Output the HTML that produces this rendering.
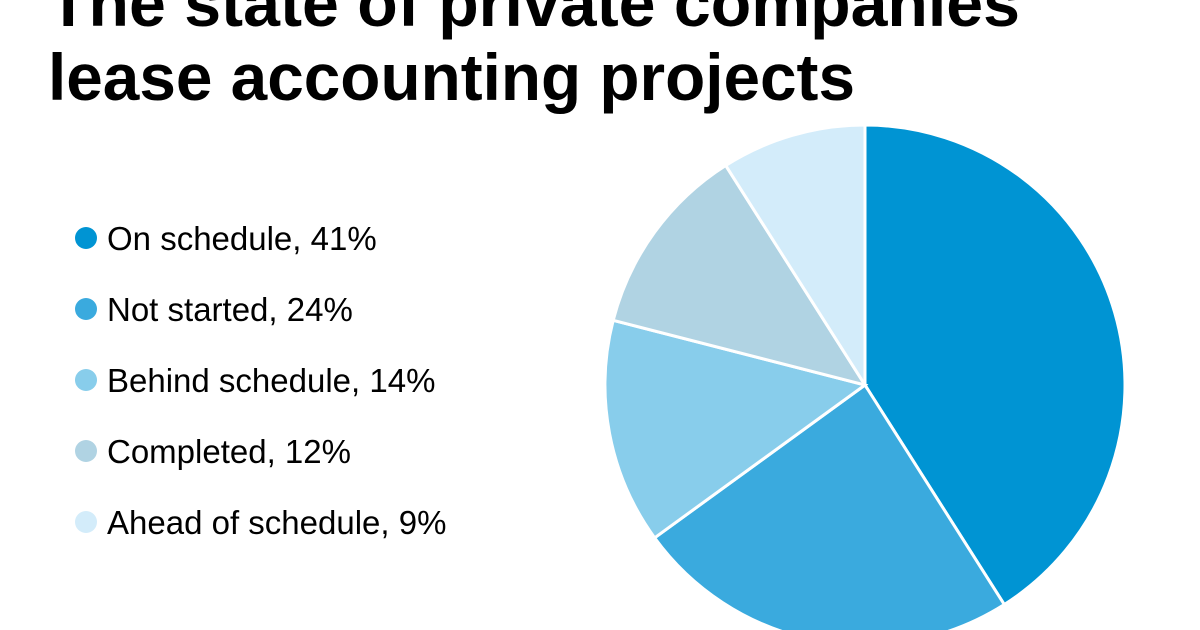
<!DOCTYPE html>
<html><head><meta charset="utf-8"><style>
html,body{margin:0;padding:0;background:#fff;}
svg{display:block;font-family:"Liberation Sans",sans-serif;}
</style></head><body>
<svg id="chart" width="1200" height="630" viewBox="0 0 1200 630">
<text x="48" y="26" font-size="66" font-weight="bold" fill="#000" textLength="972" lengthAdjust="spacingAndGlyphs">The state of private companies</text>
<text x="48" y="100" font-size="66" font-weight="bold" fill="#000" textLength="807" lengthAdjust="spacingAndGlyphs">lease accounting projects</text>
<g id="slices"></g>
<g id="legend"></g>
</svg>
<script>
const categories = ["On schedule","Not started","Behind schedule","Completed","Ahead of schedule"];
const values = [41,24,14,12,9];
const colors = ["#0094d3","#3aaade","#88cdeb","#b0d3e3","#d3ecfa"];
const NS="http://www.w3.org/2000/svg";
const cx=865, cy=385, r=260;
const total=values.reduce((a,b)=>a+b,0);
const slices=document.getElementById('slices');
let ang=0;
function pt(a){return [cx+r*Math.sin(a), cy-r*Math.cos(a)];}
values.forEach((v,i)=>{
  const a0=ang, a1=ang+v/total*2*Math.PI; ang=a1;
  const p0=pt(a0), p1=pt(a1);
  const large=(a1-a0)>Math.PI?1:0;
  const p=document.createElementNS(NS,'path');
  p.setAttribute('d',`M${cx},${cy}L${p0[0]},${p0[1]}A${r},${r} 0 ${large} 1 ${p1[0]},${p1[1]}Z`);
  p.setAttribute('fill',colors[i]);
  p.setAttribute('stroke','#fff');
  p.setAttribute('stroke-width','3');
  
  
  slices.appendChild(p);
});
const legend=document.getElementById('legend');
categories.forEach((c,i)=>{
  const y=238+i*71;
  const g=document.createElementNS(NS,'g');
  
  
  const dot=document.createElementNS(NS,'circle');
  dot.setAttribute('cx',86);dot.setAttribute('cy',y);dot.setAttribute('r',11);
  dot.setAttribute('fill',colors[i]);
  
  
  const t=document.createElementNS(NS,'text');
  t.setAttribute('x',107);t.setAttribute('y',y+12);
  t.setAttribute('font-size','33');t.setAttribute('fill','#000');
  t.textContent=c+', '+values[i]+'%';
  
  
  g.appendChild(dot);g.appendChild(t);legend.appendChild(g);
});
</script>
</body></html>
